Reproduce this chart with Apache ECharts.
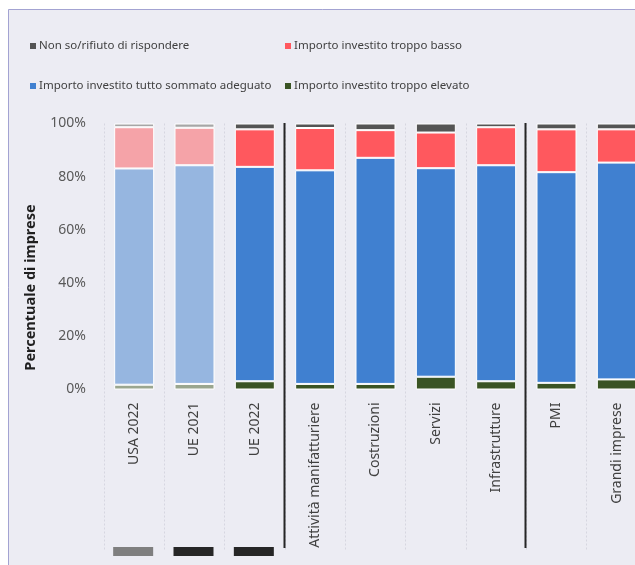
<!DOCTYPE html>
<html>
<head>
<meta charset="utf-8">
<script src="https://cdn.jsdelivr.net/npm/echarts@6/dist/echarts.min.js"></script>
<style>
  html, body { margin: 0; padding: 0; background: #ffffff; overflow: hidden; }
  #chart { width: 635px; height: 565px; }
</style>
</head>
<body>
<div id="chart"></div>
<script>
// Categories along the x axis
const categories = ['USA 2022', 'UE 2021', 'UE 2022', 'Attività manifatturiere', 'Costruzioni', 'Servizi', 'Infrastrutture', 'PMI', 'Grandi imprese'];
// Share of firms (%) per answer, stacked bottom to top
const troppoElevato = [1.8, 2.1, 3.1, 2.1, 2.1, 4.8, 3.1, 2.5, 3.8];
const tuttoSommatoAdeguato = [81.3, 82.2, 80.6, 80.3, 85.0, 78.4, 81.2, 79.2, 81.5];
const troppoBasso = [15.5, 14.1, 14.1, 15.9, 10.4, 13.4, 14.3, 16.1, 12.5];
const nonSo = [1.4, 1.6, 2.2, 1.7, 2.5, 3.4, 1.4, 2.2, 2.2];
// Tick values on the percentage axis
const yTicks = [0, 20, 40, 60, 80, 100];

const names = {
  nonSo: 'Non so/rifiuto di rispondere',
  basso: 'Importo investito troppo basso',
  adeguato: 'Importo investito tutto sommato adeguato',
  elevato: 'Importo investito troppo elevato'
};

// The first two groups (USA 2022, UE 2021) are drawn in lighter tones
const fadedGroups = 2;
const palette = {
  elevato: ['#3a5424', '#9aa68f'],
  adeguato: ['#4080d0', '#96b6e0'],
  basso: ['#ff585e', '#f5a3a8'],
  nonSo: ['#545454', '#a6a6a6']
};

const FONT = '"Noto Sans", sans-serif';
const chart = echarts.init(document.getElementById('chart'), null, { renderer: 'canvas' });

function seriesFor(key, values) {
  return {
    name: names[key],
    type: 'bar',
    stack: 'total',
    barWidth: 40,
    xAxisIndex: 0,
    yAxisIndex: 0,
    itemStyle: { color: palette[key][0], borderColor: '#ffffff', borderWidth: 1 },
    emphasis: { disabled: true },
    data: values.map((v, i) => (i < fadedGroups
      ? { value: v, itemStyle: { color: palette[key][1] } }
      : v))
  };
}

const legendText = { color: '#404040', fontSize: 11.5, fontFamily: FONT, lineHeight: 14, padding: [0, 0, 0, -2] };
const legendBase = {
  orient: 'vertical', itemGap: 26, padding: 0,
  itemWidth: 6, itemHeight: 6, icon: 'rect',
  itemStyle: { borderWidth: 0 },
  textStyle: legendText
};

chart.setOption({
  backgroundColor: '#ffffff',
  animation: false,
  legend: [
    Object.assign({}, legendBase, {
      left: 30, top: 39,
      data: [
        { name: names.nonSo, itemStyle: { color: palette.nonSo[0], borderWidth: 0 } },
        { name: names.adeguato, itemStyle: { color: palette.adeguato[0], borderWidth: 0 } }
      ]
    }),
    Object.assign({}, legendBase, {
      left: 285, top: 39,
      data: [
        { name: names.basso, itemStyle: { color: palette.basso[0], borderWidth: 0 } },
        { name: names.elevato, itemStyle: { color: palette.elevato[0], borderWidth: 0 } }
      ]
    })
  ],
  grid: [
    { left: 104, width: 543, top: 123.5, height: 266, containLabel: false, outerBoundsMode: 'none' },
    { left: 104, width: 543, top: 123.5, height: 426, containLabel: false, outerBoundsMode: 'none' }
  ],
  xAxis: [
    {
      type: 'category', gridIndex: 0, data: categories,
      axisLine: { show: false }, axisTick: { show: false },
      axisLabel: {
        rotate: 90, interval: 0, margin: 13,
        color: '#404040', fontSize: 14, fontFamily: FONT
      },
      splitLine: { show: false }
    },
    {
      type: 'category', gridIndex: 1, data: categories,
      axisLine: { show: false }, axisTick: { show: false, interval: 0 },
      axisLabel: { show: false, interval: 0 },
      splitLine: { show: true, interval: 0, lineStyle: { color: '#d6d6e0', type: [2, 2], width: 1 } }
    }
  ],
  yAxis: [
    {
      type: 'value', gridIndex: 0, min: 0, max: 100, interval: 20,
      axisLine: { show: false }, axisTick: { show: false },
      splitLine: { show: false },
      axisLabel: {
        margin: 18, color: '#595959', fontSize: 14, fontFamily: FONT,
        formatter: v => (yTicks.includes(v) ? v + '%' : '')
      },
      name: 'Percentuale di imprese',
      nameLocation: 'middle',
      nameGap: 66,
      nameTextStyle: {
        color: '#1f1f1f', fontSize: 14.5, fontWeight: 'bold', fontFamily: FONT,
        padding: [0, 62, 0, 0]
      }
    },
    {
      type: 'value', gridIndex: 1, show: false, min: 0, max: 1,
      splitLine: { show: false }
    }
  ],
  series: [
    seriesFor('elevato', troppoElevato),
    seriesFor('adeguato', tuttoSommatoAdeguato),
    seriesFor('basso', troppoBasso),
    seriesFor('nonSo', nonSo)
  ]
});

// Frame, group separators and the source markers under the first three groups
function drawDecorations() {
  const cx = i => chart.convertToPixel({ xAxisIndex: 0 }, i);
  const band = cx(1) - cx(0);
  const sepTop = 123, sepBottom = 548;
  const separators = [2, 6].map(i => {
    const x = Math.round(cx(i) + band / 2) - 0.5;
    return {
      type: 'line', z: 50, silent: true,
      shape: { x1: x, y1: sepTop, x2: x, y2: sepBottom },
      style: { stroke: '#262626', lineWidth: 2 }
    };
  });
  const markerColors = ['#7f7f7f', '#262626', '#262626'];
  const markers = markerColors.map((c, i) => ({
    type: 'rect', z: 50, silent: true,
    shape: { x: cx(i) - 21, y: 547, width: 40, height: 9 },
    style: { fill: c }
  }));
  chart.setOption({
    graphic: [
      {
        type: 'rect', z: -100, silent: true,
        shape: { x: 8.5, y: 9.5, width: 700, height: 600 },
        style: { fill: '#ececf3', stroke: '#a3a3d2', lineWidth: 1 }
      }
    ].concat(separators, markers)
  });
}
drawDecorations();
</script>
</body>
</html>
